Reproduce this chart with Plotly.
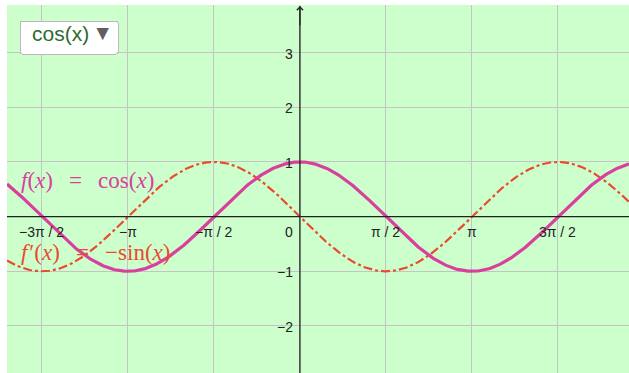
import numpy as np
import plotly.graph_objects as go

# x range shown and sample grid for the two curves
x_min, x_max = -5.35, 6.01
y_min, y_max = -2.86, 3.87
xs = np.linspace(x_min, x_max, 600)
f_vals = np.cos(xs)
df_vals = -np.sin(xs)

# tick positions / labels
x_ticks = [-3 * np.pi / 2, -np.pi, -np.pi / 2, np.pi / 2, np.pi, 3 * np.pi / 2]
x_tick_labels = ["\u22123\u03c0 / 2", "\u2212\u03c0", "\u2212\u03c0 / 2", "\u03c0 / 2", "\u03c0", "3\u03c0 / 2"]
y_ticks = [-2, -1, 1, 2, 3]
y_tick_labels = ["\u22122", "\u22121", "1", "2", "3"]

pink = "#D9409E"
red = "#EA4A2E"

fig = go.Figure()
fig.add_trace(go.Scatter(x=xs, y=df_vals, mode="lines",
                         line=dict(color=red, width=2.2, dash="dashdot"), hoverinfo="skip"))
fig.add_trace(go.Scatter(x=xs, y=f_vals, mode="lines",
                         line=dict(color=pink, width=3.2), hoverinfo="skip"))

# axes lines
fig.add_shape(type="line", x0=x_min, x1=x_max, y0=0, y1=0, line=dict(color="#222", width=1.3))
fig.add_shape(type="line", x0=0, x1=0, y0=y_min, y1=y_max - 0.02, line=dict(color="#222", width=1.3))
fig.add_annotation(x=0, y=y_max - 0.02, ax=0, ay=y_max - 0.4, xref="x", yref="y", axref="x", ayref="y",
                   showarrow=True, arrowhead=4, arrowsize=1, arrowwidth=1.2, arrowcolor="#222", text="")

tick_font = dict(family="Liberation Sans, Arial", size=14, color="#222")
for xv, lab in zip(x_ticks, x_tick_labels):
    fig.add_annotation(x=xv, y=0, text=lab, showarrow=False, yshift=-15, font=tick_font)
fig.add_annotation(x=0, y=0, text="0", showarrow=False, xshift=-11, yshift=-15, font=tick_font)
for yv, lab in zip(y_ticks, y_tick_labels):
    fig.add_annotation(x=0, y=yv, text=lab, showarrow=False, xanchor="right", xshift=-5, yshift=-1,
                       font=tick_font)

label_font = "Liberation Serif, DejaVu Serif, serif"
fig.add_annotation(x=x_min + 0.22, y=0.66, xanchor="left", showarrow=False,
                   text="<i>f</i>(<i>x</i>)  \u2009=\u2009  cos(<i>x</i>)",
                   font=dict(family=label_font, size=23, color=pink))
fig.add_annotation(x=x_min + 0.22, y=-0.66, xanchor="left", showarrow=False,
                   text="<i>f</i>\u200a\u2032(<i>x</i>)  \u2009=\u2009  \u2212sin(<i>x</i>)",
                   font=dict(family=label_font, size=23, color=red))

fig.update_layout(
    width=629, height=373,
    margin=dict(l=7, r=0, t=5, b=0),
    paper_bgcolor="white",
    plot_bgcolor="#CCFFCC",
    showlegend=False,
    xaxis=dict(range=[x_min, x_max], tickvals=x_ticks + [0], showticklabels=False,
               showgrid=True, gridcolor="#C4C4C4", gridwidth=1, zeroline=False, fixedrange=True),
    yaxis=dict(range=[y_min, y_max], tickvals=y_ticks + [0], showticklabels=False,
               showgrid=True, gridcolor="#C4C4C4", gridwidth=1, zeroline=False, fixedrange=True),
    updatemenus=[dict(
        type="dropdown", x=0.02, y=0.96, xanchor="left", yanchor="top",
        bgcolor="white", bordercolor="#BBBBBB", borderwidth=1,
        font=dict(family="Liberation Sans, Arial", size=21, color="#2E6B2E"),
        pad=dict(l=0, r=0, t=0, b=0),
        buttons=[dict(label="cos(x)", method="skip", args=[None]),
                 dict(label="sin(x)", method="skip", args=[None])],
        active=0, showactive=True,
    )],
)

post = """
document.body.style.margin = '0';
var st = document.createElement('style');
st.innerHTML = '.updatemenu-header-arrow{fill:#5f5f5f !important;}';
document.head.appendChild(st);
"""
fig.write_html("out.html", config={"displayModeBar": False}, post_script=post)
